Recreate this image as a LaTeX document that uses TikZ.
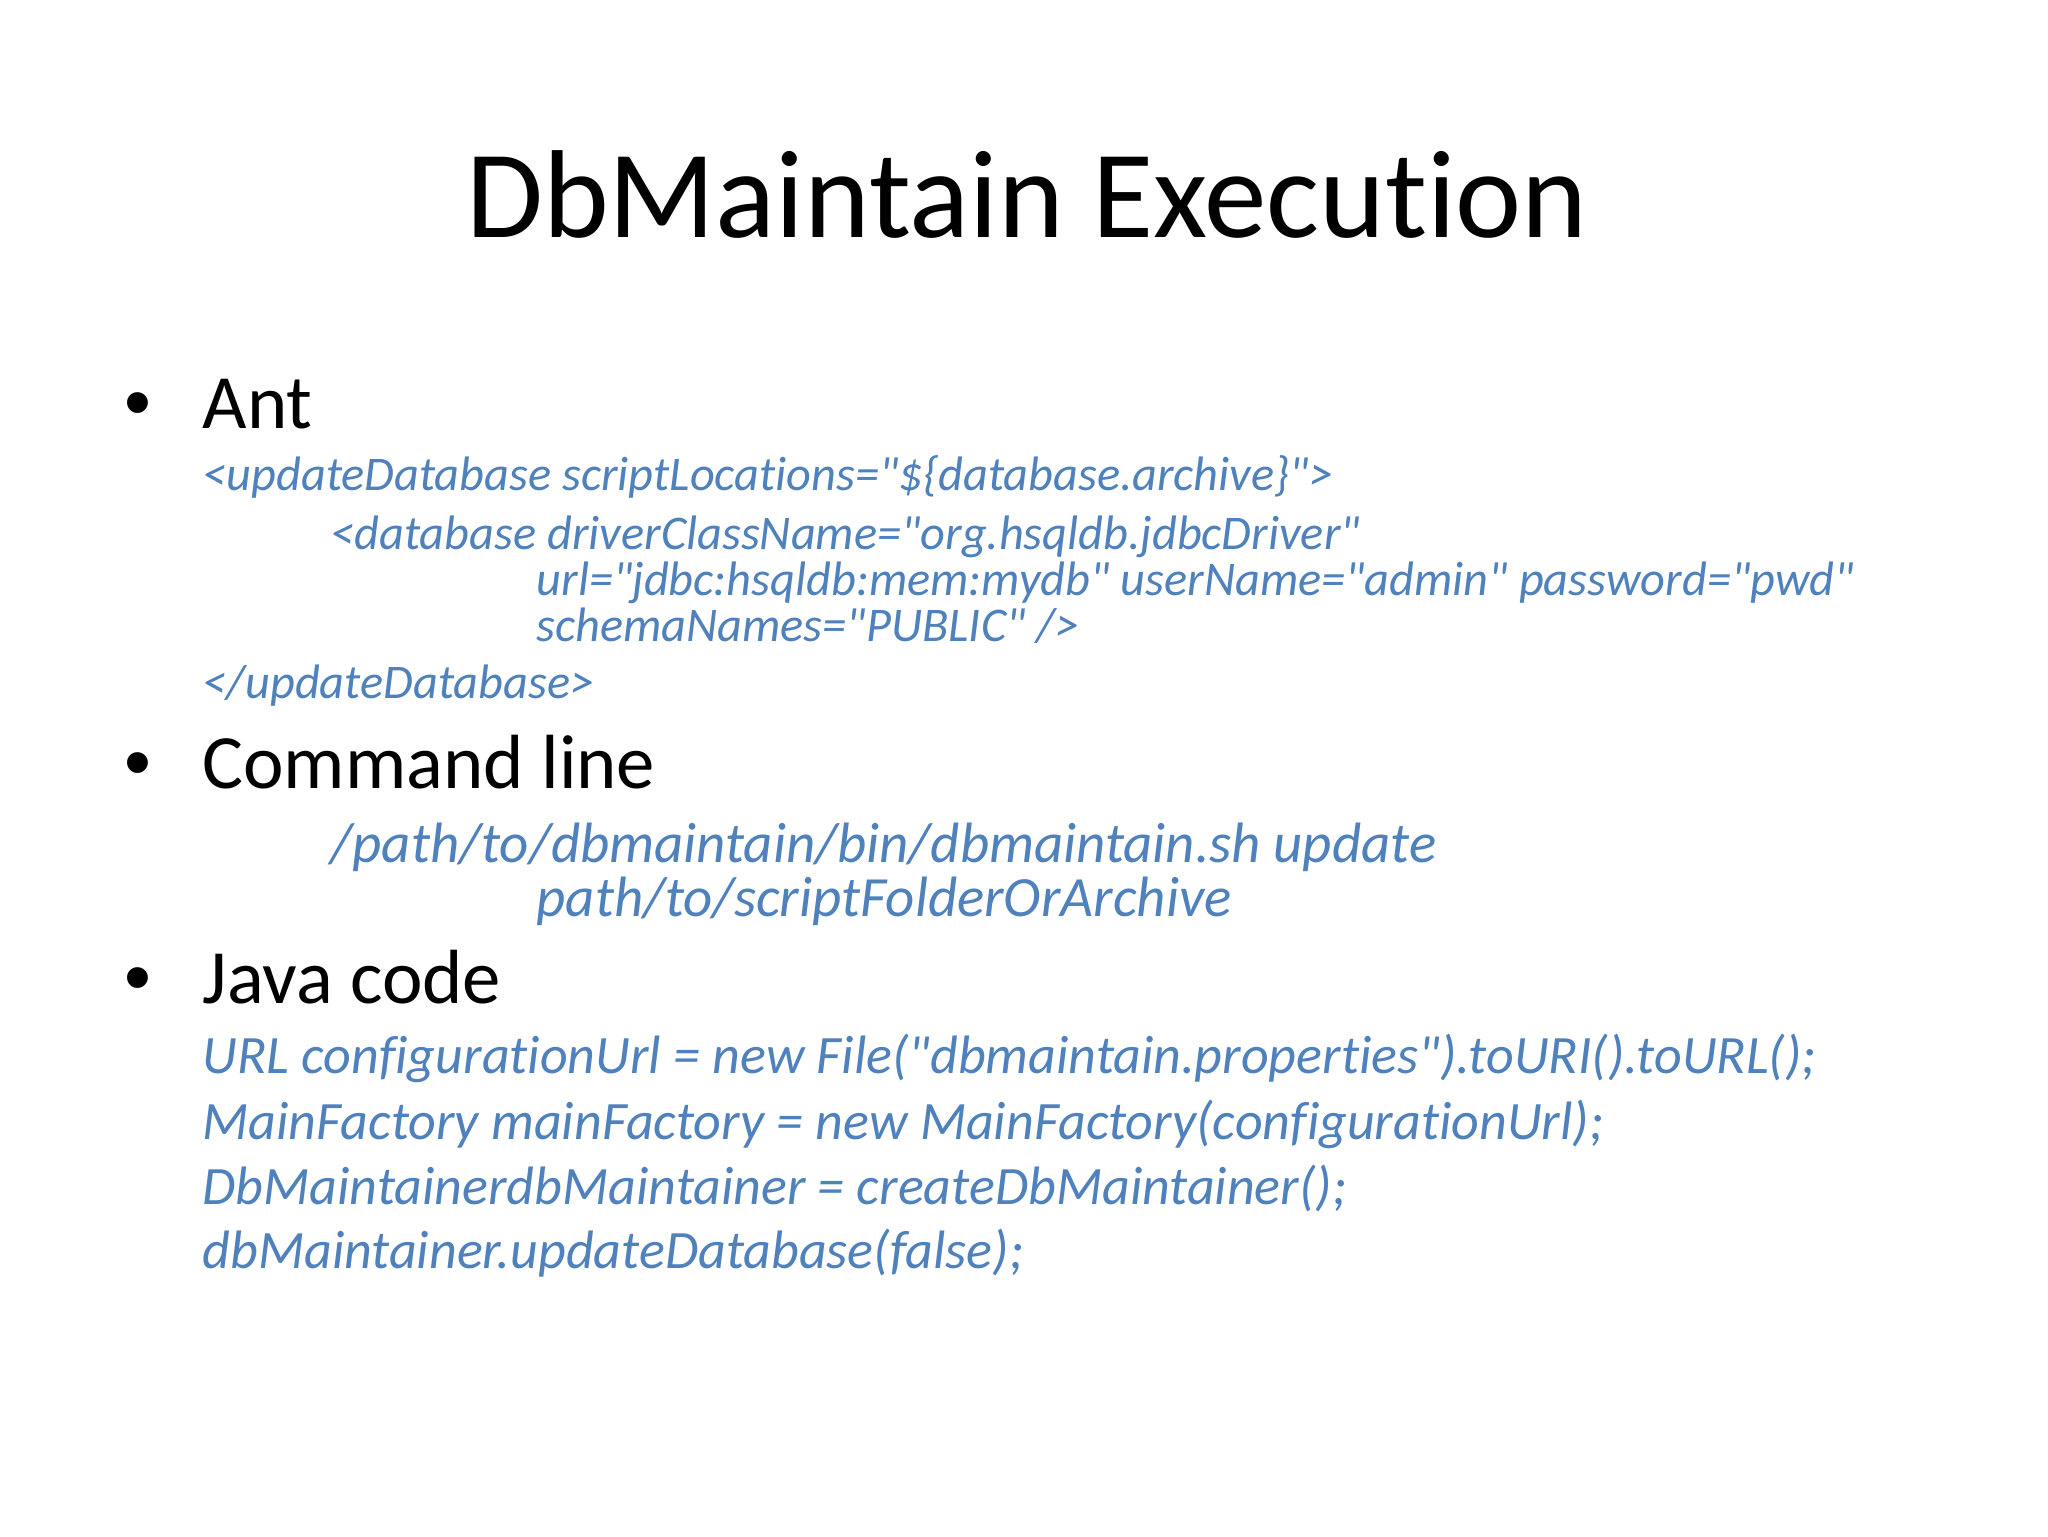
\documentclass[tikz,border=0pt]{standalone}
\usepackage{fontspec}
\setmainfont{Carlito}[Ligatures={TeXOff,NoCommon}]
\newfontfamily\dotfont{Liberation Sans}
\definecolor{codeblue}{RGB}{79,129,189}
\tikzset{
  heading/.style={anchor=base west, inner sep=0pt, font=\fontsize{27}{33}\selectfont},
  dot/.style={anchor=base west, inner sep=0pt, font=\dotfont\fontsize{27}{33}\selectfont},
  antcode/.style={anchor=base west, inner sep=0pt, text=codeblue, font=\fontsize{17}{21}\selectfont\itshape},
  cmdcode/.style={anchor=base west, inner sep=0pt, text=codeblue, font=\fontsize{20}{24}\selectfont\itshape},
  javacode/.style={anchor=base west, inner sep=0pt, text=codeblue, font=\fontsize{19}{23}\selectfont\itshape}
}
\begin{document}
\begin{tikzpicture}[x=0.3516pt,y=-0.3516pt]
		\useasboundingbox[fill=white] (0,0) rectangle (2048,1536);
		% Titel
		\node[anchor=base, inner sep=0pt, font=\fontsize{44}{53}\selectfont] (title) at (1027,237) {DbMaintain Execution};
		% Ant
		\node[dot] (antdot) at (124,428) {•};
		\node[heading] (ant) at (202,428) {Ant};
		\node[antcode] (ant1) at (202,490) {<updateDatabase scriptLocations="\$\{database.archive\}">};
		\node[antcode] (ant2) at (330,549) {<database driverClassName="org.hsqldb.jdbcDriver"};
		\node[antcode] (ant3) at (536,595) {url="jdbc:hsqldb:mem:mydb" userName="admin" password="pwd"};
		\node[antcode] (ant4) at (536,641) {schemaNames="PUBLIC" />};
		\node[antcode] (ant5) at (202,698) {</updateDatabase>};
		% Command line
		\node[dot] (cmddot) at (124,788) {•};
		\node[heading] (cmd) at (202,788) {Command line};
		\node[cmdcode] (cmd1) at (330,862) {/path/to/dbmaintain/bin/dbmaintain.sh update};
		\node[cmdcode] (cmd2) at (536,916) {path/to/scriptFolderOrArchive};
		% Java code
		\node[dot] (javadot) at (124,1003) {•};
		\node[heading] (java) at (202,1003) {Java code};
		\node[javacode] (java1) at (202,1073) {URL configurationUrl = new File("dbmaintain.properties").toURI().toURL();};
		\node[javacode] (java2) at (202,1139) {MainFactory mainFactory = new MainFactory(configurationUrl);};
		\node[javacode] (java3) at (202,1204) {DbMaintainerdbMaintainer = createDbMaintainer();};
		\node[javacode] (java4) at (202,1268) {dbMaintainer.updateDatabase(false);};
	\end{tikzpicture}
\end{document}
